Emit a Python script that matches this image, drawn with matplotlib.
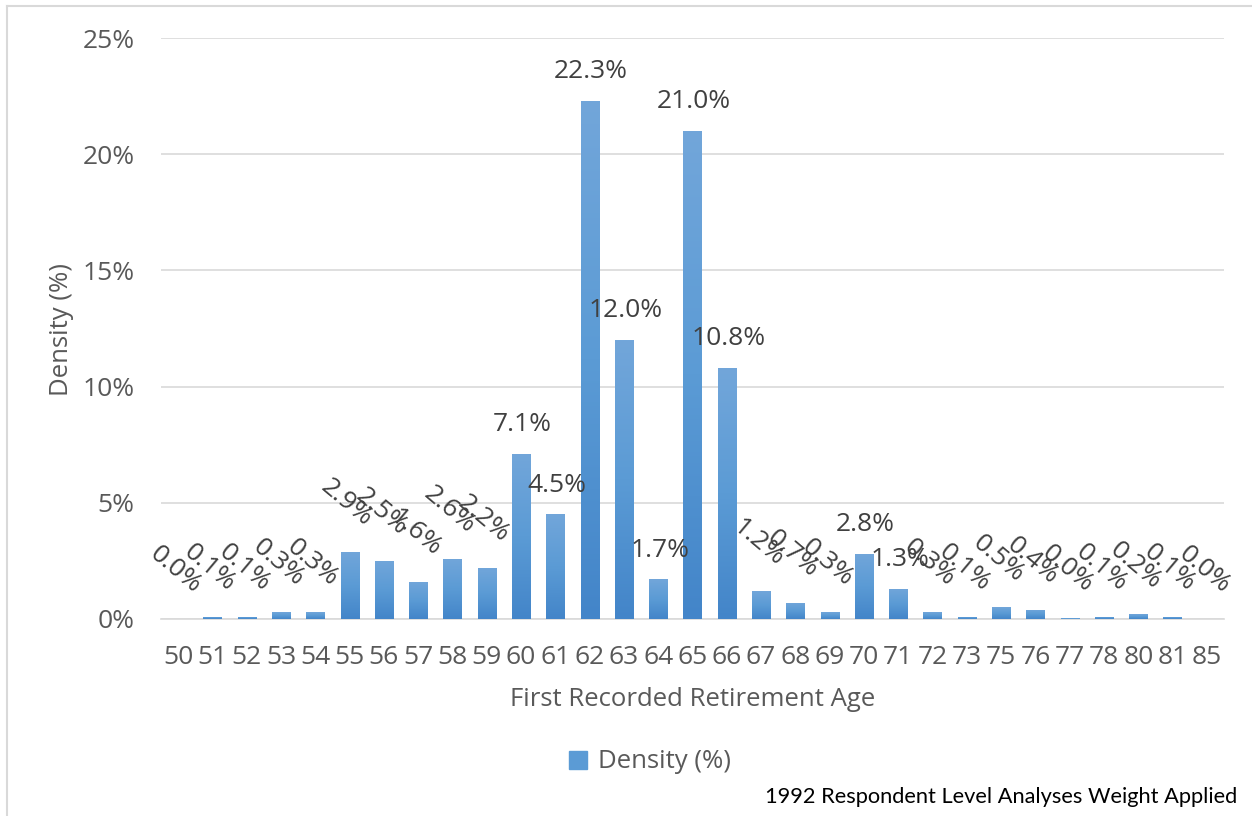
import numpy as np
import matplotlib
matplotlib.use("Agg")
import matplotlib.pyplot as plt
from matplotlib.patches import Patch
from matplotlib.lines import Line2D
from matplotlib.colors import LinearSegmentedColormap
from matplotlib.ticker import FuncFormatter

# Data
ages = ['50', '51', '52', '53', '54', '55', '56', '57', '58', '59', '60',
        '61', '62', '63', '64', '65', '66', '67', '68', '69', '70', '71',
        '72', '73', '75', '76', '77', '78', '80', '81', '85']
density = [0.0, 0.1, 0.1, 0.3, 0.3, 2.9, 2.5, 1.6, 2.6, 2.2, 7.1,
           4.5, 22.3, 12.0, 1.7, 21.0, 10.8, 1.2, 0.7, 0.3, 2.8, 1.3,
           0.3, 0.1, 0.5, 0.4, 0.04, 0.1, 0.2, 0.1, 0.0]
# labels Excel left horizontal, the rest are tilted
flat_labels = ['60', '61', '62', '63', '64', '65', '66', '70', '71']

plt.rcParams['font.family'] = ['Open Sans', 'DejaVu Sans']

W, H = 1252, 816
fig = plt.figure(figsize=(W / 100, H / 100), dpi=100)
ax = fig.add_axes([161 / W, 1 - 619 / H, (1224 - 161) / W, (619 - 38) / H])

x = np.arange(len(ages))
bars = ax.bar(x, density, width=0.53, color='#5b9bd5', zorder=2)

# vertical gradient like the Excel fill
cmap = LinearSegmentedColormap.from_list('fill', ['#4385c9', '#5b9bd5', '#72a6da'])
grad = np.linspace(0, 1, 256).reshape(-1, 1)
for b in bars:
    h = b.get_height()
    if h <= 0:
        continue
    im = ax.imshow(grad, extent=[b.get_x(), b.get_x() + b.get_width(), 0, h],
                   origin='lower', cmap=cmap, aspect='auto', zorder=3)
    im.set_clip_path(b)

# Data labels
for xi, age, v in zip(x, ages, density):
    txt = f'{v:.1f}%'
    if age in flat_labels:
        ax.annotate(txt, (xi, v), xytext=(1, 21), textcoords='offset points',
                    ha='center', va='center', fontsize=19, color='#404040', zorder=4)
    else:
        ax.annotate(txt, (xi, v), xytext=(-2, 35), textcoords='offset points',
                    ha='center', va='center', rotation=-40, rotation_mode='anchor',
                    fontsize=19, color='#404040', zorder=4)

# Axes
ax.set_xlim(-0.5, len(ages) - 0.5)
ax.set_ylim(0, 25)
ax.set_yticks([0, 5, 10, 15, 20, 25])
ax.yaxis.set_major_formatter(FuncFormatter(lambda v, p: f'{v:.0f}%'))
ax.set_xticks(x)
ax.set_xticklabels(ages)
ax.tick_params(axis='both', length=0, labelsize=19, labelcolor='#595959')
ax.tick_params(axis='y', pad=19)
ax.tick_params(axis='x', pad=19)
ax.grid(axis='y', color='#d9d9d9', lw=1.2, zorder=0)
ax.set_axisbelow(True)
for s in ['top', 'right', 'left']:
    ax.spines[s].set_visible(False)
ax.spines['bottom'].set_color('#d9d9d9')
ax.spines['bottom'].set_linewidth(1.2)

ax.set_xlabel('First Recorded Retirement Age', fontsize=18.5, color='#595959', va='center')
ax.xaxis.set_label_coords(0.5, -(700 - 619) / 581)
ax.set_ylabel('Density (%)', fontsize=18.5, color='#595959', va='center')
ax.yaxis.set_label_coords(-(161 - 62) / 1063, (619 - 330) / 581)

# Legend
fig.legend(handles=[Patch(color='#5b9bd5')], labels=['Density (%)'],
           loc='center', bbox_to_anchor=(650 / W, 1 - 762 / H), frameon=False,
           fontsize=18.5, handlelength=0.7, handleheight=0.7, handletextpad=0.4,
           labelcolor='#595959')

# Footnote
fig.text(1237 / W, 1 - 797 / H, '1992 Respondent Level Analyses Weight Applied',
         ha='right', va='center', fontsize=15.7, color='black', family='Lato')

# Chart border (left and top edges visible)
fig.add_artist(Line2D([7 / W, 7 / W], [0, 1 - 6 / H], transform=fig.transFigure,
                      color='#d9d9d9', lw=1.5))
fig.add_artist(Line2D([7 / W, 1], [1 - 6 / H, 1 - 6 / H], transform=fig.transFigure,
                      color='#d9d9d9', lw=1.5))

fig.savefig('out.png', dpi=100)
